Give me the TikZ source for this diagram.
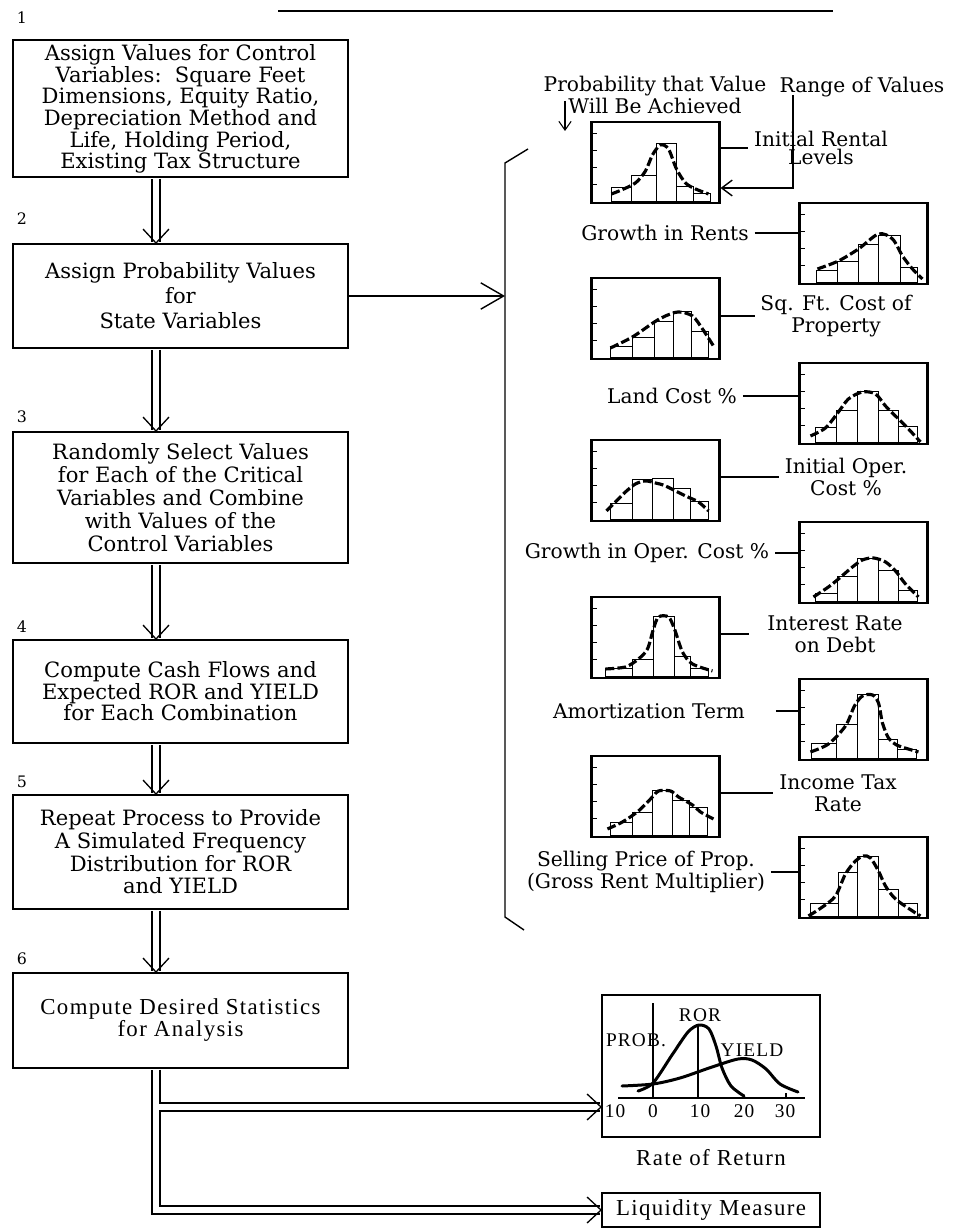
\documentclass[tikz,border=0pt]{standalone}
\usepackage{fontspec}
\setmainfont{DejaVu Serif}
\newfontfamily\condfont{Liberation Serif}[LetterSpace=6]
\usetikzlibrary{positioning, arrows.meta}

\begin{document}
\begin{tikzpicture}[x=0.02cm, y=-0.02cm, line width=0.8pt,
  flow/.style={draw, line width=1.1pt, minimum width=6.7cm, align=center, inner sep=2pt},
  hist/.style={draw, line width=1.2pt, minimum width=2.56cm, minimum height=1.62cm, inner sep=0pt},
  lab/.style={align=center, inner sep=3pt, font=\fontsize{11.5}{12.5}\selectfont},
  num/.style={inner sep=0pt, font=\fontsize{9}{9}\selectfont},
  cond/.style={font=\condfont\fontsize{13}{12.5}\selectfont},
  gl/.style={inner sep=1pt, font=\condfont\fontsize{11}{11}\selectfont},
  dbl/.style={double, double distance=3.75pt, line width=0.75pt, shorten <=0.5pt, shorten >=0.5pt},
  vee/.style={line width=0.75pt, line join=round},
  arr/.style={-{Straight Barb[length=6pt, width=9pt]}},
  bar/.style={line width=0.6pt},
  crv/.style={line width=1.8pt, dash pattern=on 5pt off 1.8pt},
  rcrv/.style={line width=1.7pt, line cap=round}]
  \useasboundingbox (0,0) rectangle (968,1229);
  % 顶部残留横线
  \draw[line width=1.1pt] (278,11) -- (833,11);

  % 左侧流程框
  \node[flow, minimum height=2.74cm, font=\fontsize{12}{11.6}\selectfont] (s1) at (180.5,108.5)
    {Assign Values for Control\\Variables:\ \ Square Feet\\Dimensions, Equity Ratio,\\Depreciation Method and\\Life, Holding Period,\\Existing Tax Structure};
  \node[flow, minimum height=2.08cm, font=\fontsize{12}{14.2}\selectfont] (s2) at (180.5,296)
    {Assign Probability Values\\for\\State Variables};
  \node[flow, minimum height=2.62cm, font=\fontsize{12}{13}\selectfont] (s3) at (180.5,497.5)
    {Randomly Select Values\\for Each of the Critical\\Variables and Combine\\with Values of the\\Control Variables};
  \node[flow, minimum height=2.06cm, font=\fontsize{12}{12.2}\selectfont] (s4) at (180.5,691.5)
    {Compute Cash Flows and\\Expected ROR and YIELD\\for Each Combination};
  \node[flow, minimum height=2.28cm, font=\fontsize{12}{12.9}\selectfont] (s5) at (180.5,852)
    {Repeat Process to Provide\\A Simulated Frequency\\Distribution for ROR\\and YIELD};
  \node[flow, cond, minimum height=1.9cm] (s6) at (180.5,1020.5)
    {Compute Desired Statistics\\for Analysis};
  \foreach \i/\y in {1/18, 2/219, 3/417, 4/627, 5/782, 6/959}
    \node[num] (n\i) at (22,\y) {\i};

  % 双线箭头
  \coordinate (cx) at (156,0);
  \foreach \a/\b in {s1/s2, s2/s3, s3/s4, s4/s5, s5/s6} {
    \draw[dbl] (\a.south -| cx) -- (\b.north -| cx);
    \coordinate (t\b) at (\b.north -| cx);
    \draw[vee] ([shift={(-13,-14)}]t\b) -- (t\b) -- ([shift={(13,-14)}]t\b);
  }

  % 指向括号
  \coordinate (brk) at (505,296);
  \draw[-{Straight Barb[length=13pt, width=15pt]}] (s2.east) -- (brk);
  \draw (528,149) -- (505,163) -- (505,917) -- (524,930);

  % 直方图框
  \node[hist] (h1) at (655.5,162.5) {};
  \node[hist] (h2) at (863.5,243.5) {};
  \node[hist] (h3) at (655.5,318.5) {};
  \node[hist] (h4) at (863.5,403.5) {};
  \node[hist] (h5) at (655.5,480.5) {};
  \node[hist] (h6) at (863.5,562.5) {};
  \node[hist] (h7) at (655.5,637.5) {};
  \node[hist] (h8) at (863.5,719.5) {};
  \node[hist] (h9) at (655.5,796.5) {};
  \node[hist] (h10) at (863.5,877.5) {};
  \foreach \i in {1,...,10}
    \foreach \y in {13,30,47,64}
      \draw[bar] ([shift={(0,\y)}]h\i.north west) -- ++(7,0);

  % 直方图内容
  \begin{scope}[shift={(h1.north west)}]
    \foreach \a/\b/\v in {21/41/14, 41/66/26, 66/86/58, 86/103/15, 103/120/8}
      \draw[bar] (\a,81) rectangle (\b,81-\v);
    \draw[crv] plot[smooth] coordinates {(21,73) (31,69) (45,62) (55,50) (62,34) (70,24) (78,28) (86,48) (95,62) (105,68) (118,73)};
  \end{scope}
  \begin{scope}[shift={(h2.north west)}]
    \foreach \a/\b/\v in {18/39/12, 39/60/21, 60/80/38, 80/102/47, 102/119/15}
      \draw[bar] (\a,81) rectangle (\b,81-\v);
    \draw[crv] plot[smooth] coordinates {(19,67) (40,59) (60,47) (80,32) (94,37) (104,54) (114,67) (124,77)};
  \end{scope}
  \begin{scope}[shift={(h3.north west)}]
    \foreach \a/\b/\v in {20/42/11, 42/64/20, 64/83/36, 83/101/46, 101/118/26}
      \draw[bar] (\a,81) rectangle (\b,81-\v);
    \draw[crv] plot[smooth] coordinates {(20,71) (42,60) (64,45) (75,39) (88,35) (102,39) (112,52) (123,69)};
  \end{scope}
  \begin{scope}[shift={(h4.north west)}]
    \foreach \a/\b/\v in {17/38/15, 38/59/32, 59/80/51, 80/100/32, 100/119/16}
      \draw[bar] (\a,81) rectangle (\b,81-\v);
    \draw[crv] plot[smooth] coordinates {(12,74) (27,66) (40,50) (50,37) (64,30) (77,32) (87,44) (100,57) (110,67) (122,80)};
  \end{scope}
  \begin{scope}[shift={(h5.north west)}]
    \foreach \a/\b/\v in {20/42/16, 42/62/40, 62/83/41, 83/100/31, 100/118/18}
      \draw[bar] (\a,81) rectangle (\b,81-\v);
    \draw[crv] plot[smooth] coordinates {(16,72) (26,62) (35,53) (45,45) (55,42) (65,44) (75,47) (95,57) (108,63) (118,72)};
  \end{scope}
  \begin{scope}[shift={(h6.north west)}]
    \foreach \a/\b/\v in {17/39/8, 39/59/25, 59/80/43, 80/100/31, 100/119/11}
      \draw[bar] (\a,81) rectangle (\b,81-\v);
    \draw[crv] plot[smooth] coordinates {(15,76) (30,66) (40,58) (54,46) (64,39) (75,37) (87,41) (97,50) (107,63) (120,76)};
  \end{scope}
  \begin{scope}[shift={(h7.north west)}]
    \foreach \a/\b/\v in {15/42/8, 42/63/17, 63/84/60, 84/100/20, 100/118/8}
      \draw[bar] (\a,81) rectangle (\b,81-\v);
    \draw[crv] plot[smooth] coordinates {(15,73) (35,71) (48,63) (57,53) (63,33) (68,21) (78,21) (84,33) (92,56) (102,68) (122,75)};
  \end{scope}
  \begin{scope}[shift={(h8.north west)}]
    \foreach \a/\b/\v in {13/38/15, 38/59/34, 59/80/64, 80/99/19, 99/118/9}
      \draw[bar] (\a,81) rectangle (\b,81-\v);
    \draw[crv] plot[smooth] coordinates {(12,74) (30,66) (47,48) (56,28) (64,18) (74,17) (80,25) (84,45) (90,60) (98,67) (113,72) (120,74)};
  \end{scope}
  \begin{scope}[shift={(h9.north west)}]
    \foreach \a/\b/\v in {20/42/13, 42/62/23, 62/82/45, 82/99/35, 99/117/28}
      \draw[bar] (\a,81) rectangle (\b,81-\v);
    \draw[crv] plot[smooth] coordinates {(17,74) (32,67) (48,56) (62,42) (68,36) (80,36) (88,42) (102,50) (110,57) (123,64)};
  \end{scope}
  \begin{scope}[shift={(h10.north west)}]
    \foreach \a/\b/\v in {12/40/13, 40/59/44, 59/80/60, 80/100/27, 100/119/13}
      \draw[bar] (\a,81) rectangle (\b,81-\v);
    \draw[crv] plot[smooth] coordinates {(10,80) (24,71) (37,60) (47,38) (57,25) (65,20) (72,22) (80,35) (87,50) (97,63) (114,75) (122,80)};
  \end{scope}

  % 说明文字
  \node[lab, font=\fontsize{11.5}{10.8}\selectfont] (prob) at (655,95) {Probability that Value\\Will Be Achieved};
  \coordinate (pa) at (565,101);
  \coordinate (pb) at (565,131);
  \draw[-{Straight Barb[length=5pt, width=7pt]}, line width=0.6pt] (pa) -- (pb);
  \node[lab] (rng) at (862,87) {Range of Values};
  \coordinate (rv) at (793,95);
  \draw[arr] (rv) |- (h1.east |- 0,188);
  \node[lab, font=\fontsize{11.5}{10.2}\selectfont] (irl) at (821,148) {Initial Rental\\Levels};
  \draw (h1.east |- irl.west) -- (irl.west);
  \node[lab] (l2) at (665,233) {Growth in Rents};
  \draw (l2.east) -- (l2.east -| h2.west);
  \node[lab] (l3) at (836,316) {Sq. Ft. Cost of\\Property};
  \draw (h3.east |- l3.west) -- (l3.west);
  \node[lab] (l4) at (672,396) {Land Cost \%};
  \draw (l4.east) -- (l4.east -| h4.west);
  \node[lab] (l5) at (846,477) {Initial Oper.\\Cost \%};
  \draw (h5.east |- l5.west) -- (l5.west);
  \node[lab] (l6) at (647,553) {Growth in Oper. Cost \%};
  \draw (l6.east) -- (l6.east -| h6.west);
  \node[lab] (l7) at (835,634) {Interest Rate\\on Debt};
  \draw[shorten >=0.25cm] (h7.east |- l7.west) -- (l7.west);
  \node[lab] (l8) at (649,711) {Amortization Term};
  \draw[shorten <=0.5cm] (l8.east) -- (l8.east -| h8.west);
  \node[lab] (l9) at (838,793) {Income Tax\\Rate};
  \draw (h9.east |- l9.west) -- (l9.west);
  \node[lab] (l10) at (646,872) {Selling Price of Prop.\\(Gross Rent Multiplier)};
  \draw (l10.east) -- (l10.east -| h10.west);

  % 收益率分布图
  \node[draw, line width=1.1pt, minimum width=4.36cm, minimum height=2.84cm, inner sep=0pt] (graph) at (711,1066) {};
  \draw[bar] (618,1098) -- (805,1098);
  \draw[bar] (653,1003) -- (653,1098);
  \draw[bar] (698,1025) -- (698,1098);
  \draw[bar] (786,1093) -- (786,1098);
  \foreach \x/\t in {615/10, 653/0, 700/10, 744/20, 785/30}
    \node[gl] (ax\x) at (\x,1111) {\t};
  \node[gl] (pr) at (636,1040) {PROB.};
  \node[gl] (ror) at (700,1015) {ROR};
  \node[gl] (yl) at (752,1050) {YIELD};
  \draw[rcrv] plot[smooth] coordinates {(638,1091) (653,1083) (672,1055) (688,1032) (699,1025) (709,1029) (716,1046) (722,1068) (731,1086) (744,1096)};
  \draw[rcrv] plot[smooth] coordinates {(622,1086) (653,1084) (680,1078) (712,1067) (738,1059) (752,1060) (766,1069) (780,1084) (798,1092)};
  \node[cond, below=0.1cm of graph] (rr) {Rate of Return};
  \node[draw, cond, line width=1.1pt, minimum width=4.36cm, minimum height=0.68cm] (liq) at (711,1210) {Liquidity Measure};

  % 分叉双线
  \coordinate (gin) at (graph.west |- 0,1107);
  \coordinate (jn) at (cx |- gin);
  \draw[dbl] (s6.south -| cx) |- (gin);
  \draw[dbl] (s6.south -| cx) |- (liq.west);
  \draw[white, line width=3.75pt, shorten >=0.6pt] (jn) -- (gin);
  \draw[vee] ([shift={(-14,-13)}]gin) -- (gin) -- ([shift={(-14,13)}]gin);
  \draw[vee] ([shift={(-14,-13)}]liq.west) -- (liq.west) -- ([shift={(-14,13)}]liq.west);
\end{tikzpicture}
\end{document}
